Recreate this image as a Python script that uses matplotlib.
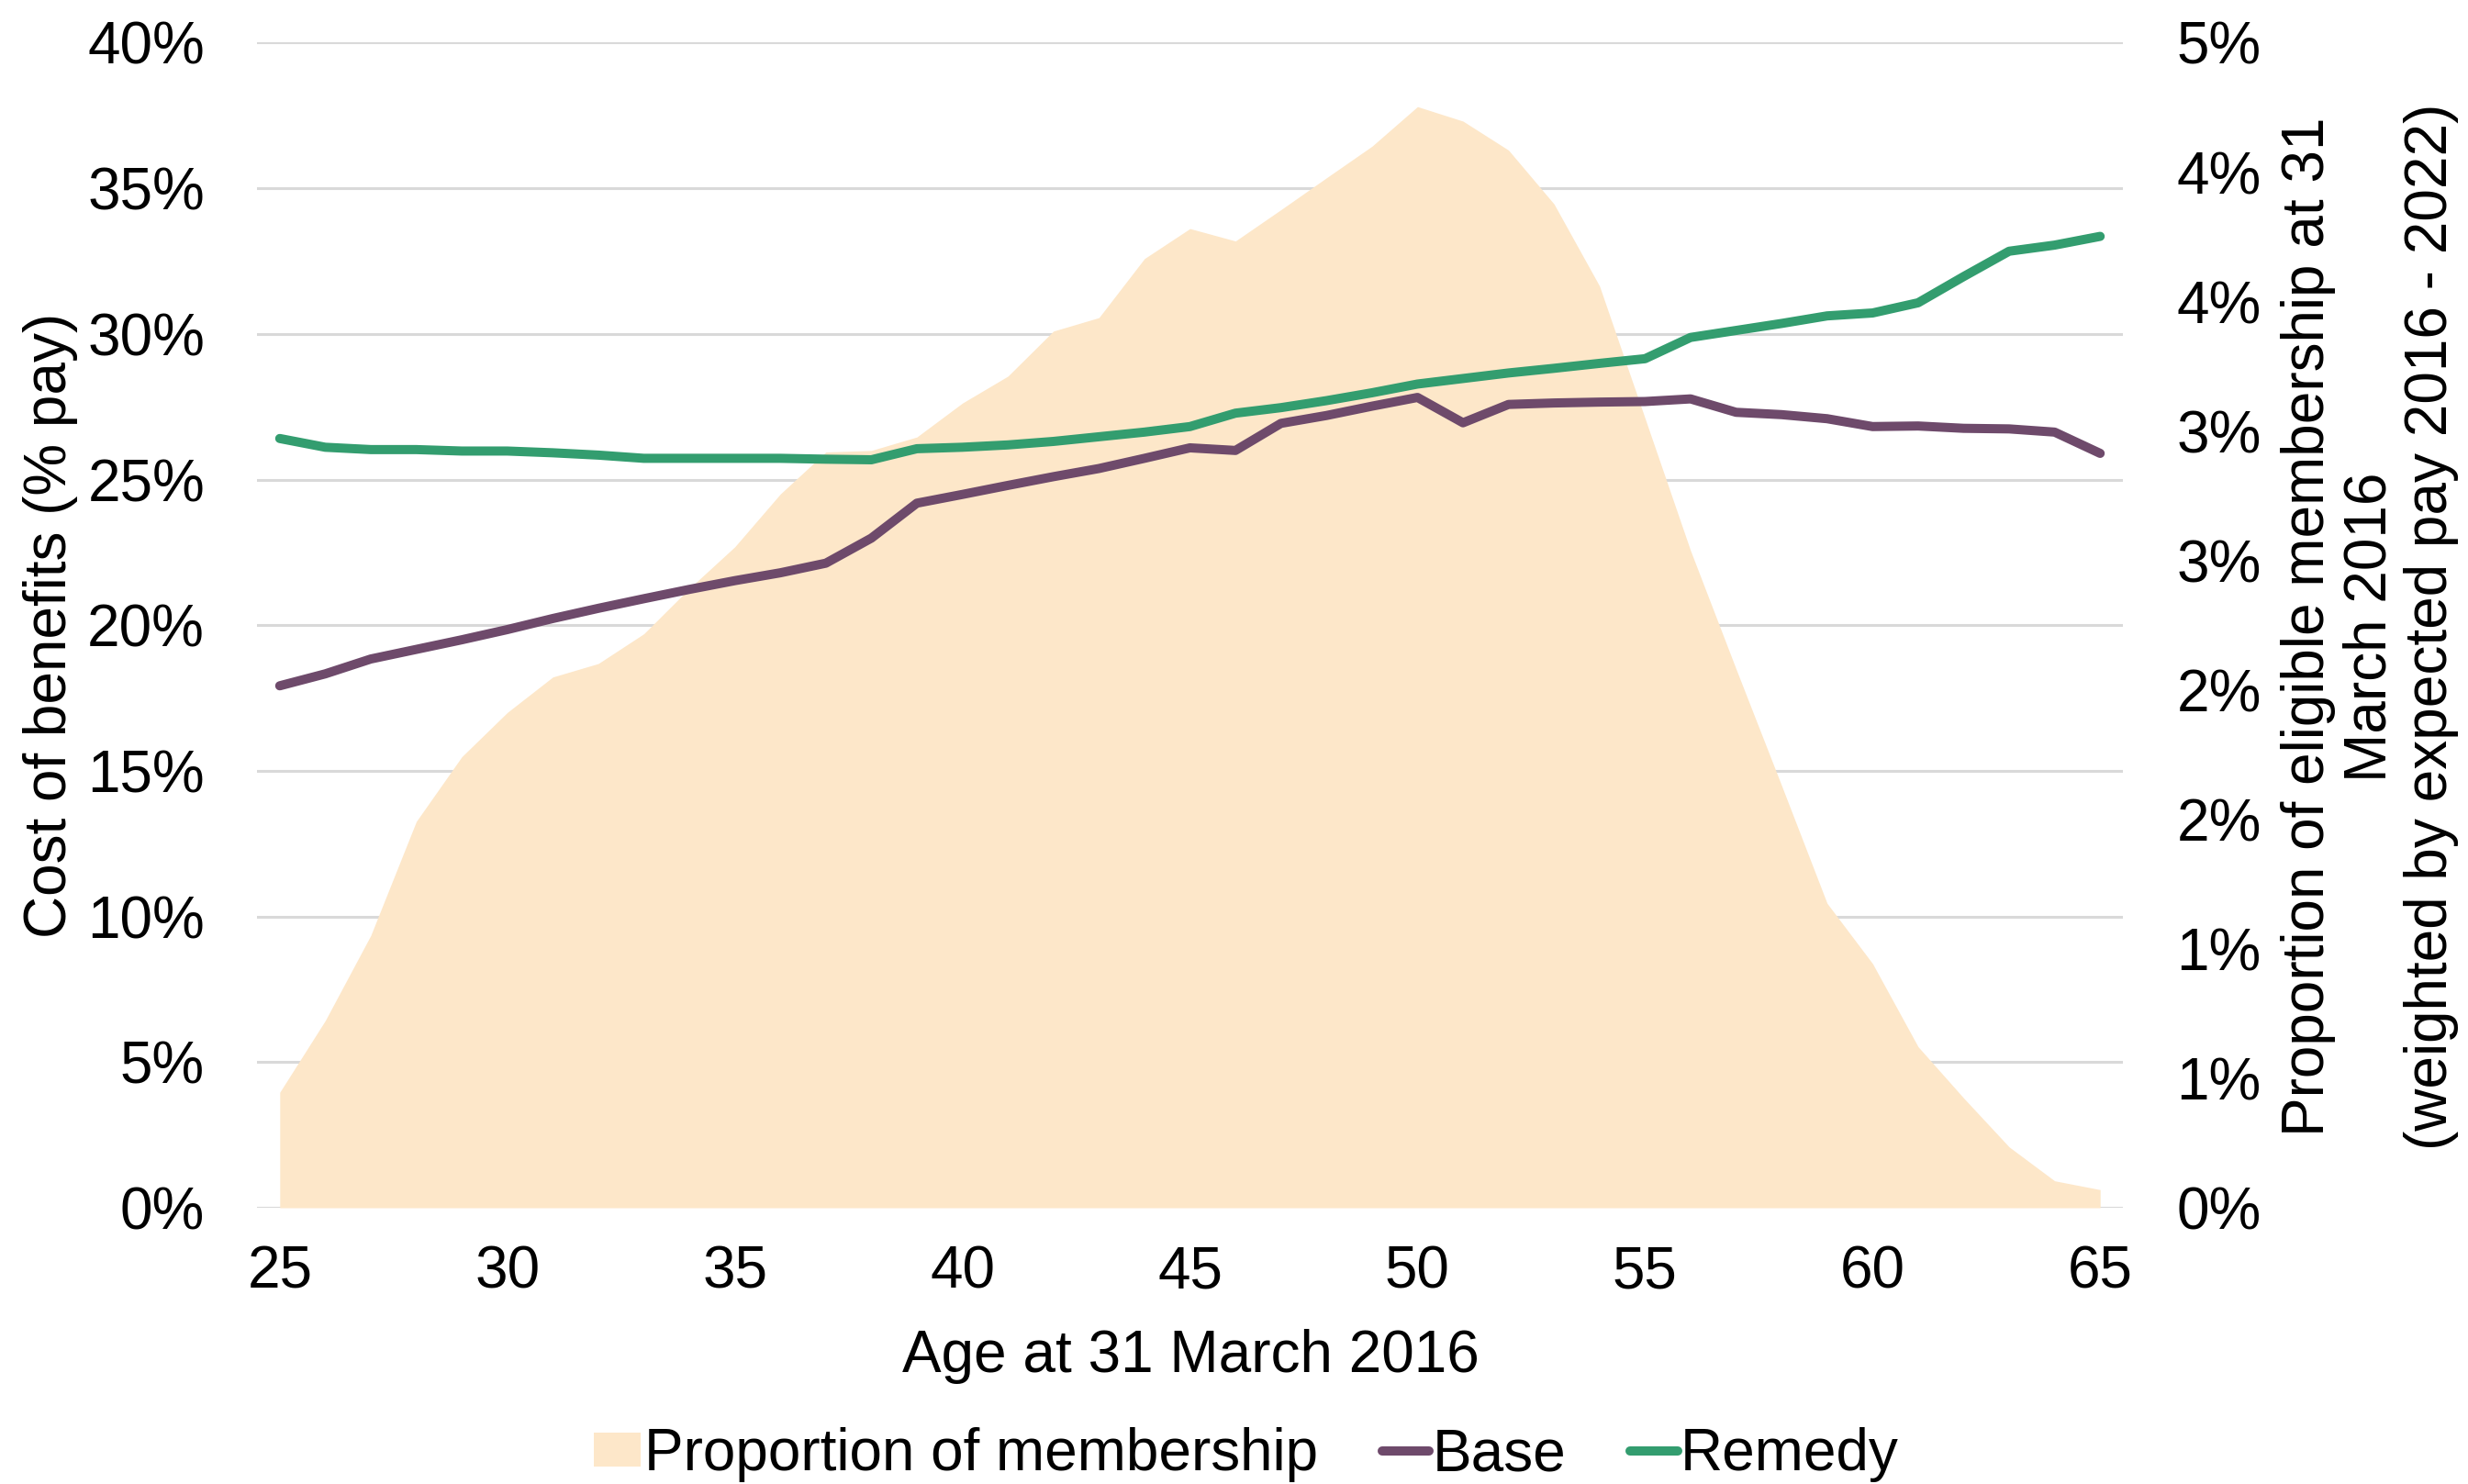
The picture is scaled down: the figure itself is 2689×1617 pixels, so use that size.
import math
import matplotlib
matplotlib.use("Agg")
import matplotlib.pyplot as plt
from matplotlib.ticker import FuncFormatter, MultipleLocator
from matplotlib.patches import Patch
from matplotlib.lines import Line2D

# ---------------- data ----------------
ages = list(range(25, 66))

# Cost of benefits (% pay) - left axis
base = [17.92, 18.33, 18.84, 19.17, 19.50, 19.85, 20.23, 20.58, 20.91, 21.23,
        21.53, 21.80, 22.13, 22.99, 24.19, 24.49, 24.80, 25.10, 25.38, 25.73,
        26.09, 26.00, 26.93, 27.20, 27.52, 27.82, 26.95, 27.58, 27.63, 27.66,
        27.68, 27.77, 27.31, 27.23, 27.09, 26.82, 26.84, 26.76, 26.74, 26.63,
        25.90]
remedy = [26.41, 26.11, 26.03, 26.03, 25.98, 25.98, 25.92, 25.84, 25.73, 25.73,
          25.73, 25.73, 25.70, 25.68, 26.06, 26.11, 26.19, 26.31, 26.47, 26.63,
          26.82, 27.28, 27.47, 27.71, 27.98, 28.28, 28.47, 28.66, 28.82, 28.99,
          29.15, 29.88, 30.12, 30.36, 30.62, 30.72, 31.07, 31.97, 32.84, 33.05,
          33.35]

# Proportion of eligible membership (%) - right axis
membership = [0.446, 0.723, 1.052, 1.492, 1.742, 1.913, 2.050, 2.102, 2.217, 2.392,
              2.553, 2.757, 2.919, 2.925, 2.977, 3.108, 3.212, 3.386, 3.438, 3.666,
              3.782, 3.734, 3.855, 3.978, 4.100, 4.253, 4.197, 4.085, 3.877, 3.560,
              3.049, 2.538, 2.081, 1.631, 1.176, 0.943, 0.622, 0.424, 0.235, 0.104,
              0.070]

x_ticks = [25, 30, 35, 40, 45, 50, 55, 60, 65]

series_labels = ["Proportion of membership", "Base", "Remedy"]
xlabel = "Age at 31 March 2016"
ylabel_left = "Cost of benefits (% pay)"
ylabel_right = ("Proportion of eligible membership at 31\nMarch 2016\n"
                "(weighted by expected pay 2016 - 2022)")

# ---------------- style ----------------
FONT = "Liberation Sans"
FS = 46
C_AREA = "#FDE7C9"
C_BASE = "#6E4A6B"
C_REMEDY = "#339D6F"
C_GRID = "#D9D9D9"
LW = 7.2

plt.rcParams["font.family"] = [FONT, "DejaVu Sans"]
plt.rcParams["font.size"] = FS

W, H = 2689, 1617
fig = plt.figure(figsize=(W / 100, H / 100), dpi=100)
fig.patch.set_facecolor("white")

left_px, right_px, top_px, bottom_px = 280, 2313, 46.5, 1316
ax = fig.add_axes([left_px / W, 1 - bottom_px / H,
                   (right_px - left_px) / W, (bottom_px - top_px) / H])
ax2 = ax.twinx()
ax3 = ax.twinx()

# Background axis: grid + left labels
ax.set_ylim(0, 40)
ax.yaxis.set_major_locator(MultipleLocator(5))
ax.yaxis.set_major_formatter(FuncFormatter(lambda v, p: f"{v:.0f}%"))
ax.yaxis.grid(True, color=C_GRID, linewidth=2.2)
ax.set_axisbelow(True)
ax.set_xlim(24.5, 65.5)
ax.set_xticks(x_ticks)
ax.tick_params(axis="both", length=0, labelsize=FS)
ax.tick_params(axis="y", pad=41)
ax.tick_params(axis="x", pad=29)
for s in ax.spines.values():
    s.set_visible(False)

# Area on right axis
ax2.fill_between(ages, 0, membership, color=C_AREA, linewidth=0, zorder=1)
ax2.set_ylim(0, 4.5)
ax2.yaxis.set_major_locator(MultipleLocator(0.5))
ax2.yaxis.set_major_formatter(
    FuncFormatter(lambda v, p: f"{math.floor(v + 0.5 + 1e-9):.0f}%"))
ax2.tick_params(axis="y", length=0, labelsize=FS, pad=42)
for s in ax2.spines.values():
    s.set_visible(False)

# Lines on left scale, top layer
ax3.set_ylim(0, 40)
ax3.plot(ages, base, color=C_BASE, linewidth=LW, solid_capstyle="round")
ax3.plot(ages, remedy, color=C_REMEDY, linewidth=LW, solid_capstyle="round")
ax3.set_yticks([])
ax3.tick_params(length=0)
for s in ax3.spines.values():
    s.set_visible(False)
ax3.set_xlim(24.5, 65.5)

# Labels
fig.text(1297 / W, 1 - 1495 / H, xlabel, ha="center", va="baseline", fontsize=FS)
fig.text(55 / W, 1 - 681 / H, ylabel_left, rotation=90, ha="center",
         va="center", fontsize=FS)
fig.text(2582 / W, 1 - 683 / H, ylabel_right, rotation=90, ha="center",
         va="center", multialignment="center", fontsize=FS, linespacing=1.15)

# Legend
handles = [Patch(facecolor=C_AREA, edgecolor="none"),
           Line2D([], [], color=C_BASE, linewidth=LW, solid_capstyle="round"),
           Line2D([], [], color=C_REMEDY, linewidth=LW, solid_capstyle="round")]
fig.legend(handles, series_labels, loc="center", ncol=3, frameon=False,
           bbox_to_anchor=(1358 / W, 1 - 1585 / H), fontsize=FS,
           handlelength=0.8, handleheight=0.52, handletextpad=0.05,
           columnspacing=1.1, borderpad=0, borderaxespad=0)

fig.savefig("out.png", dpi=100, facecolor="white")
